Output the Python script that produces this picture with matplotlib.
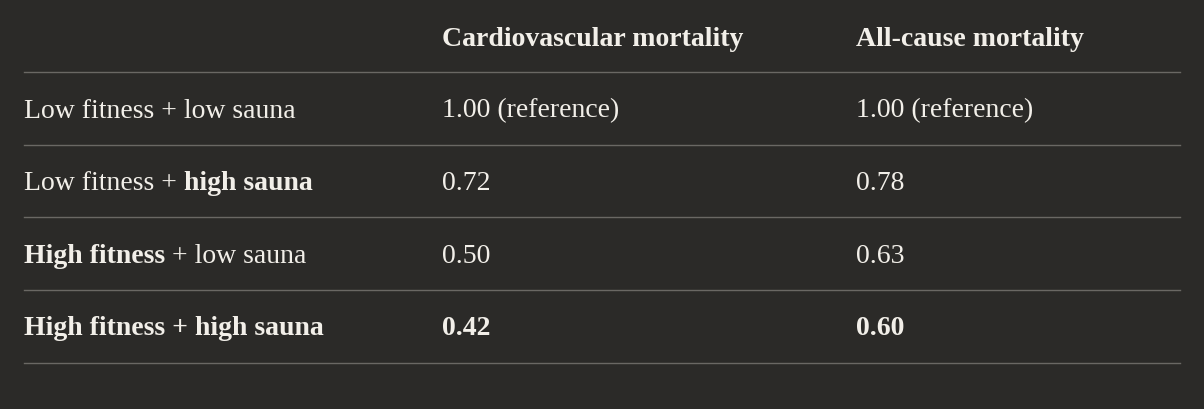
import matplotlib
matplotlib.use("Agg")
import matplotlib.pyplot as plt

# table content
columns = ["Cardiovascular mortality", "All-cause mortality"]
row_labels = [
    [("Low fitness + low sauna", False)],
    [("Low fitness + ", False), ("high sauna", True)],
    [("High fitness", True), (" + low sauna", False)],
    [("High fitness + high sauna", True)],
]
cardio = ["1.00 (reference)", "0.72", "0.50", "0.42"]
allcause = ["1.00 (reference)", "0.78", "0.63", "0.60"]
bold_values = [False, False, False, True]

bg = "#2b2a28"
fg = "#f2efe9"
rule = "#6a6864"
W, H = 1204, 410

fig = plt.figure(figsize=(W / 100, H / 100), dpi=100, facecolor=bg)
ax = fig.add_axes([0, 0, 1, 1])
ax.set_xlim(0, W)
ax.set_ylim(H, 0)
ax.axis("off")
ax.set_facecolor(bg)

font = "Liberation Serif"
fs = 20
col_x = [24, 442, 856]
header_y = 40
row_y = [111, 184, 257, 329]
lines_y = [73, 146, 218, 291, 364]

for x, c in zip(col_x[1:], columns):
    ax.text(x, header_y, c, color=fg, fontsize=fs, fontweight="bold",
            family=font, va="center", ha="left")

for y in lines_y:
    ax.plot([24, 1180], [y, y], color=rule, lw=1)

fig.canvas.draw()
r = fig.canvas.get_renderer()
inv = ax.transData.inverted()

for y, pieces, cv, av, b in zip(row_y, row_labels, cardio, allcause, bold_values):
    x = col_x[0]
    for txt, bold in pieces:
        t = ax.text(x, y, txt, color=fg, fontsize=fs, family=font,
                    fontweight="bold" if bold else "normal", va="center", ha="left")
        bb = t.get_window_extent(renderer=r)
        x = inv.transform((bb.x1, 0))[0]
    w = "bold" if b else "normal"
    ax.text(col_x[1], y, cv, color=fg, fontsize=fs, family=font, fontweight=w, va="center")
    ax.text(col_x[2], y, av, color=fg, fontsize=fs, family=font, fontweight=w, va="center")

fig.savefig("out.png", dpi=100, facecolor=bg)
